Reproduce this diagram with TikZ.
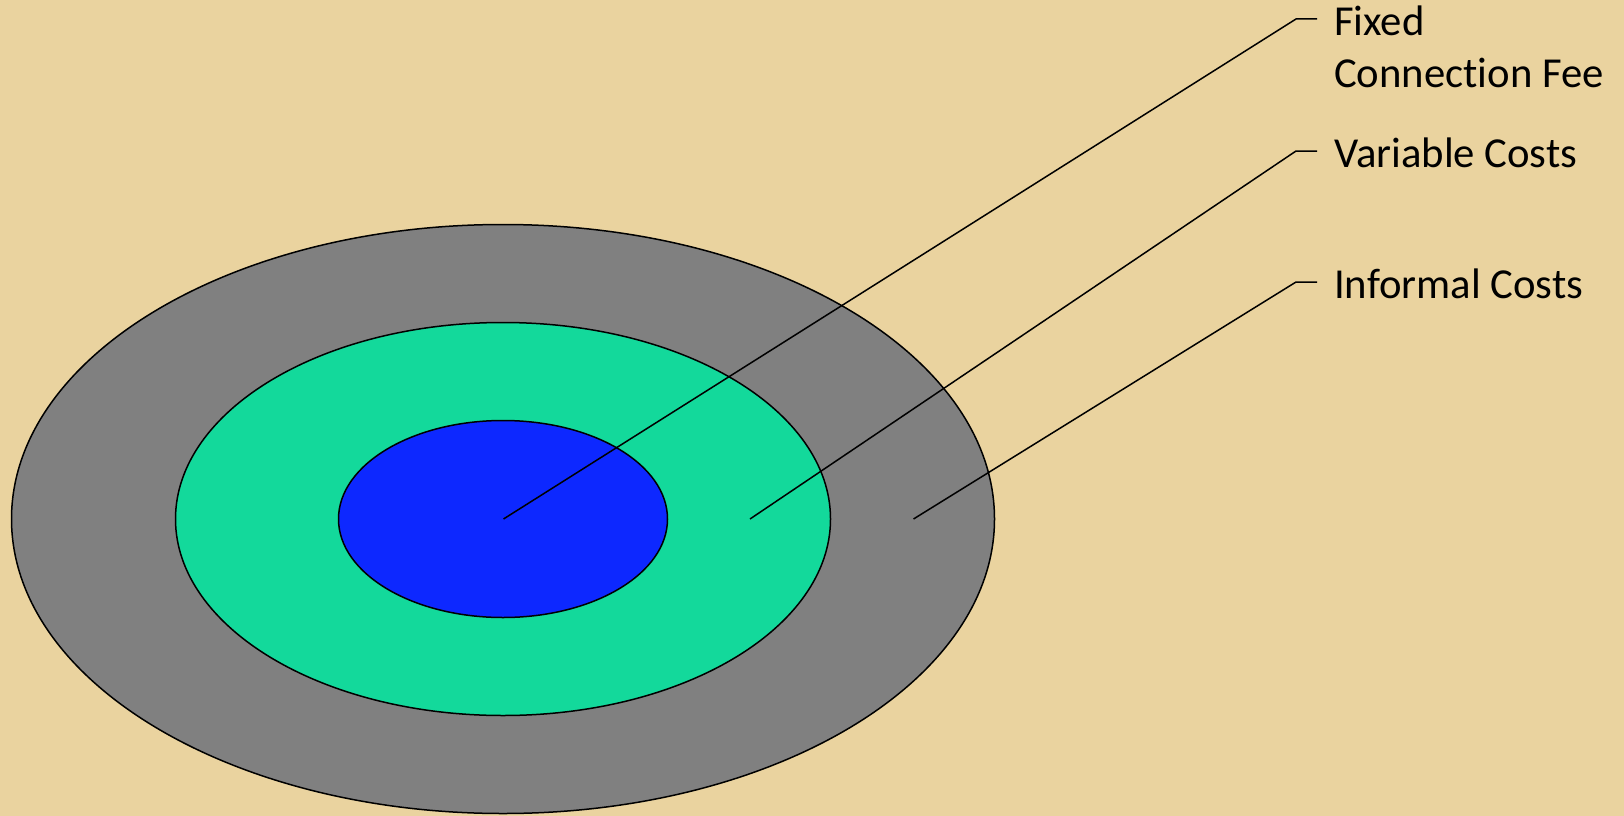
\documentclass[tikz,border=0pt]{standalone}
\usepackage{fontspec}
\setmainfont{Carlito}[Ligatures=NoCommon]
\definecolor{bg}{HTML}{EAD39F}
\definecolor{ringgrey}{HTML}{808080}
\definecolor{ringgreen}{HTML}{13D99B}
\definecolor{ringblue}{HTML}{0D28FF}
\begin{document}
\begin{tikzpicture}[x=1pt,y=-1pt,
  ring/.style={draw=black,line width=1.5pt},
  leader/.style={draw=black,line width=1.5pt},
  lbl/.style={anchor=base west,inner sep=0pt,font=\fontsize{42.7}{51}\selectfont,align=left}]
\fill[bg] (0,0) rectangle (1624,816);
\useasboundingbox (0,0) rectangle (1624,816);
\path[ring,fill=ringgrey] (503,519) ellipse [x radius=491.5,y radius=294.5];
\path[ring,fill=ringgreen] (503,519) ellipse [x radius=327.5,y radius=196.5];
\path[ring,fill=ringblue] (503,519) ellipse [x radius=164.5,y radius=98.5];
\coordinate (c1) at (503.5,519);
\coordinate (c2) at (750,519);
\coordinate (c3) at (913.5,519);
\coordinate (k1) at (1296,19);
\coordinate (k2) at (1296,151);
\coordinate (k3) at (1296,282);
\node[lbl] (t1) at (1334,36) {Fixed};
\node[lbl] (t1b) at (1334,87) {Connection Fee};
\node[lbl] (t2) at (1334,167) {Variable Costs};
\node[lbl] (t3) at (1334,298) {Informal Costs};
\draw[leader] (c1) -- (k1) -- ++(21,0);
\draw[leader] (c2) -- (k2) -- ++(21,0);
\draw[leader] (c3) -- (k3) -- ++(21,0);
\end{tikzpicture}
\end{document}
